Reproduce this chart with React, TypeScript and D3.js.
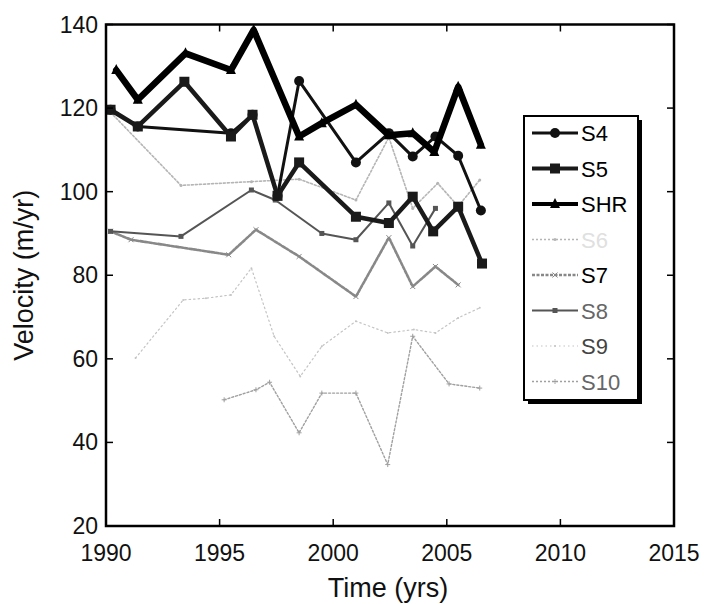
import React from "react";
import * as d3 from "d3";

type Pt = [number, number];

const seriesNames = ["S4", "S5", "SHR", "S6", "S7", "S8", "S9", "S10"];

const s4: Pt[] = [[1990.2,119.6],[1991.4,115.6],[1995.5,114],[1996.45,118.4],[1997.55,99],[1998.5,126.5],[2001.0,107],[2002.45,114],[2003.5,108.4],[2004.5,113.2],[2005.5,108.6],[2006.5,95.5]];
const s5: Pt[] = [[1990.2,119.6],[1991.4,115.6],[1993.45,126.3],[1995.5,113.2],[1996.45,118.4],[1997.55,99],[1998.5,107],[2001.0,94],[2002.45,92.5],[2003.5,98.8],[2004.4,90.5],[2005.5,96.4],[2006.55,82.8]];
const shr: Pt[] = [[1990.45,129.1],[1991.4,122],[1993.5,133.1],[1995.5,129.1],[1996.5,138.7],[1998.5,113.2],[1999.5,116.4],[2001.0,120.8],[2002.45,113.5],[2003.5,114],[2004.45,109.5],[2005.5,125.1],[2006.5,111.2]];
const s6: Pt[] = [[1990.2,119],[1993.3,101.5],[1996.4,102.4],[1998.5,103],[2001.0,98],[2002.45,113],[2003.5,96],[2004.6,102],[2005.5,96.5],[2006.45,102.8]];
const s7: Pt[] = [[1990.2,90.5],[1991.1,88.5],[1995.4,84.9],[1996.6,90.9],[1998.5,84.5],[2001.0,74.9],[2002.45,89],[2003.5,77.3],[2004.5,82.1],[2005.5,77.7]];
const s8: Pt[] = [[1990.2,90.5],[1993.3,89.3],[1996.4,100.4],[1997.45,98],[1999.5,90],[2001.0,88.5],[2002.45,97.3],[2003.5,87],[2004.5,96]];
const s9: Pt[] = [[1991.3,60.2],[1993.4,74.1],[1994.4,74.5],[1995.5,75.3],[1996.4,81.7],[1997.4,65.4],[1998.55,55.8],[1999.5,63],[2001.0,69],[2002.4,66.2],[2003.55,67],[2004.5,66.2],[2005.5,69.8],[2006.45,72.2]];
const s10: Pt[] = [[1995.2,50.2],[1996.6,52.6],[1997.2,54.4],[1998.5,42.3],[1999.5,51.8],[2001.0,51.8],[2002.4,34.7],[2003.5,65.4],[2005.1,54],[2006.45,53]];

const xTicks = [1990, 1995, 2000, 2005, 2010, 2015];
const yTicks = [20, 40, 60, 80, 100, 120, 140];

type Style = { color: string; width: number; dash?: string; marker: string; msize: number; text: string };
const styles: Style[] = [
  { color: "#111", width: 3, marker: "circle", msize: 5, text: "#000" },
  { color: "#1a1a1a", width: 4.5, marker: "square", msize: 5, text: "#000" },
  { color: "#000", width: 6.5, marker: "tri", msize: 5, text: "#000" },
  { color: "#b5b5b5", width: 1.6, dash: "2,2", marker: "dot", msize: 1.5, text: "#e0e0e0" },
  { color: "#888", width: 2.6, dash: "3,1.5", marker: "x", msize: 2.5, text: "#000" },
  { color: "#555", width: 2, marker: "square", msize: 2.5, text: "#666" },
  { color: "#c4c4c4", width: 1.2, dash: "1.5,3", marker: "dot", msize: 1, text: "#444" },
  { color: "#a0a0a0", width: 1.4, dash: "2,2", marker: "plus", msize: 2.5, text: "#666" },
];
const allSeries: Pt[][] = [s4, s5, shr, s6, s7, s8, s9, s10];

const W = 707, H = 604;
const x = d3.scaleLinear().domain([1990, 2015]).range([106, 674]);
const y = d3.scaleLinear().domain([20, 140]).range([526, 24.5]);

function Marker({ cx, cy, s }: { cx: number; cy: number; s: Style }) {
  const r = s.msize;
  if (s.marker === "circle") return <circle cx={cx} cy={cy} r={r} fill={s.color} />;
  if (s.marker === "square") return <rect x={cx - r} y={cy - r} width={2 * r} height={2 * r} fill={s.color} />;
  if (s.marker === "tri") return <path d={`M${cx},${cy - r - 1}L${cx + r},${cy + r - 1}L${cx - r},${cy + r - 1}Z`} fill={s.color} />;
  if (s.marker === "x") return <path d={`M${cx - r},${cy - r}L${cx + r},${cy + r}M${cx - r},${cy + r}L${cx + r},${cy - r}`} stroke={s.color} strokeWidth={1} />;
  if (s.marker === "plus") return <path d={`M${cx - r},${cy}L${cx + r},${cy}M${cx},${cy - r}L${cx},${cy + r}`} stroke={s.color} strokeWidth={1} />;
  return <circle cx={cx} cy={cy} r={r} fill={s.color} />;
}

export default function App() {
  const line = d3.line<Pt>().x(d => x(d[0])).y(d => y(d[1]));
  const [x0, x1] = x.range();
  const [yb, yt] = y.range();
  const order = [6, 7, 3, 4, 5, 0, 1, 2];
  const font = "Liberation Sans, Arial, Helvetica, sans-serif";
  const legX = 524, legY = 116, legW = 114, legH = 284;
  const rowY = (i: number) => 133 + i * 35.5;
  return (
    <svg width={W} height={H} style={{ position: "absolute", left: 0, top: 0, background: "#fff" }} fontFamily={font}>
      <rect x={0} y={0} width={W} height={H} fill="#fff" />
      {order.map(i => (
        <g key={seriesNames[i]}>
          <path d={line(allSeries[i]) || ""} fill="none" stroke={styles[i].color} strokeWidth={styles[i].width}
            strokeDasharray={styles[i].dash} strokeLinejoin="round" strokeLinecap="round" />
          {allSeries[i].map((p, k) => <Marker key={k} cx={x(p[0])} cy={y(p[1])} s={styles[i]} />)}
        </g>
      ))}
      <rect x={x0} y={yt} width={x1 - x0} height={yb - yt} fill="none" stroke="#000" strokeWidth={2.5} />
      {xTicks.map(t => (
        <g key={t}>
          <line x1={x(t)} x2={x(t)} y1={yb} y2={yb - 7} stroke="#000" strokeWidth={1.5} />
          <line x1={x(t)} x2={x(t)} y1={yt} y2={yt + 7} stroke="#000" strokeWidth={1.5} />
          <text x={x(t)} y={yb + 35} textAnchor="middle" fontSize={23} fill="#111">{t}</text>
        </g>
      ))}
      {yTicks.map(t => (
        <g key={t}>
          <line x1={x0} x2={x0 + 7} y1={y(t)} y2={y(t)} stroke="#000" strokeWidth={1.5} />
          <line x1={x1} x2={x1 - 7} y1={y(t)} y2={y(t)} stroke="#000" strokeWidth={1.5} />
          <text x={x0 - 8} y={y(t) + 8} textAnchor="end" fontSize={23} fill="#111">{t}</text>
        </g>
      ))}
      <text x={(x0 + x1) / 2 - 2} y={597} textAnchor="middle" fontSize={27} fill="#111">Time (yrs)</text>
      <text transform={`translate(33,${(yt + yb) / 2}) rotate(-90)`} textAnchor="middle" fontSize={27} fill="#111">Velocity (m/yr)</text>
      <rect x={legX + 4} y={legY + 4} width={legW} height={legH} fill="#000" />
      <rect x={legX} y={legY} width={legW} height={legH} fill="#fff" stroke="#000" strokeWidth={2} />
      {seriesNames.map((n, i) => (
        <g key={n}>
          <line x1={legX + 8} x2={legX + 54} y1={rowY(i)} y2={rowY(i)} stroke={styles[i].color}
            strokeWidth={Math.min(styles[i].width, 4)} strokeDasharray={styles[i].dash} />
          <Marker cx={legX + 31} cy={rowY(i)} s={styles[i]} />
          <text x={legX + 57} y={rowY(i) + 8} fontSize={22} fill={styles[i].text}>{n}</text>
        </g>
      ))}
    </svg>
  );
}
